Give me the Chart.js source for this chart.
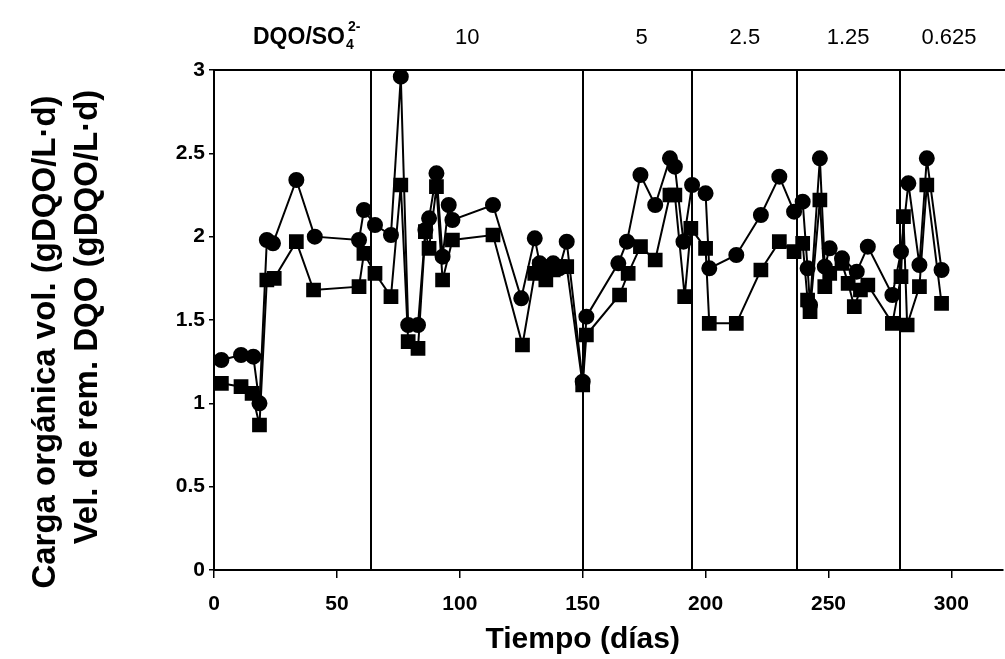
<!DOCTYPE html>
<html>
<head>
<meta charset="utf-8">
<script src="https://cdn.jsdelivr.net/npm/chart.js@4.4.0/dist/chart.umd.min.js"></script>
<style>
    html, body { margin: 0; padding: 0; background: #fff; }
    #wrap { width: 1005px; height: 659px; }
</style>
</head>
<body>
<div id="wrap"><canvas id="grafico" width="1005" height="659"></canvas></div>
<script>
// Carga orgánica volumétrica (círculos)
const cargaDias = [3, 11, 16, 18.5, 21.5, 24, 33.5, 41, 59, 61, 65.5, 72, 76, 79, 83, 86, 87.5, 90.5, 93, 95.5, 97,
    113.5, 125, 130.5, 132.5, 135, 138, 140.5, 143.5, 150, 151.5, 164.5, 168, 173.5, 179.5, 185.5, 187.5, 191, 194.5,
    200, 201.5, 212.5, 222.5, 230, 236, 239.5, 241.5, 242.5, 246.5, 248.5, 250.5, 255.5, 261.5, 266, 276, 279.5,
    282.5, 287, 290, 296];
const cargaVals = [1.26, 1.29, 1.28, 1.00, 1.98, 1.96, 2.34, 2.00, 1.98, 2.16, 2.07, 2.01, 2.96, 1.47, 1.47, 2.04, 2.11, 2.38, 1.88, 2.19, 2.10,
    2.19, 1.63, 1.99, 1.84, 1.78, 1.84, 1.81, 1.97, 1.13, 1.52, 1.84, 1.97, 2.37, 2.19, 2.47, 2.42, 1.97, 2.31,
    2.26, 1.81, 1.89, 2.13, 2.36, 2.15, 2.21, 1.81, 1.59, 2.47, 1.82, 1.93, 1.87, 1.79, 1.94, 1.65, 1.91,
    2.32, 1.83, 2.47, 1.80];

// Velocidad de remoción de DQO (cuadrados)
const velDias = [3, 11, 15.5, 18.5, 21.5, 24.5, 33.5, 40.5, 59, 61, 65.5, 72, 76, 79, 83, 86, 87.5, 90.5, 93, 97,
    113.5, 125.5, 130.5, 132.5, 135, 138, 140.5, 143.5, 150, 151.5, 165, 168.5, 173.5, 179.5, 185.5, 187.5, 191.5, 194,
    200, 201.5, 212.5, 222.5, 230, 236, 239.5, 241.5, 242.5, 246.5, 248.5, 250.5, 255.5, 258, 260.5, 263, 266, 276,
    279.5, 280.5, 282, 287, 290, 296];
const velVals = [1.12, 1.10, 1.06, 0.87, 1.74, 1.75, 1.97, 1.68, 1.70, 1.90, 1.78, 1.64, 2.31, 1.37, 1.33, 2.03, 1.93, 2.30, 1.74, 1.98,
    2.01, 1.35, 1.78, 1.82, 1.74, 1.80, 1.82, 1.82, 1.11, 1.41, 1.65, 1.78, 1.94, 1.86, 2.25, 2.25, 1.64, 2.05,
    1.93, 1.48, 1.48, 1.80, 1.97, 1.91, 1.96, 1.62, 1.55, 2.22, 1.70, 1.78, 1.84, 1.72, 1.58, 1.68, 1.71, 1.48,
    1.76, 2.12, 1.47, 1.70, 2.31, 1.60];

// Cambios de la relación DQO/SO4
const cambiosDias = [64, 150, 194.5, 237, 279];
const relacionEtiquetas = ['10', '5', '2.5', '1.25', '0.625'];
const relacionDias = [103, 174, 216, 258, 299];

const xTicks = [0, 50, 100, 150, 200, 250, 300];
const yTicks = [0, 0.5, 1, 1.5, 2, 2.5, 3];

const fuente = '"Liberation Sans", Arial, sans-serif';
Chart.defaults.font.family = fuente;
Chart.defaults.color = '#000';

function puntos(dias, vals) {
    return dias.map((d, i) => ({ x: d, y: vals[i] }));
}

const fasesPlugin = {
    id: 'fases',
    beforeDatasetsDraw(chart) {
        const { ctx, chartArea, scales: { x } } = chart;
        ctx.save();
        ctx.strokeStyle = '#000';
        ctx.lineWidth = 2;
        cambiosDias.forEach(d => {
            const px = Math.round(x.getPixelForValue(d));
            ctx.beginPath();
            ctx.moveTo(px, chartArea.top);
            ctx.lineTo(px, chartArea.bottom);
            ctx.stroke();
        });
        // linea superior del marco
        ctx.beginPath();
        ctx.moveTo(chartArea.left, chartArea.top);
        ctx.lineTo(chartArea.right + 2, chartArea.top);
        ctx.stroke();
        ctx.restore();
    },
    afterDraw(chart) {
        const { ctx, scales: { x } } = chart;
        ctx.save();
        ctx.fillStyle = '#000';
        ctx.textBaseline = 'alphabetic';

        // etiquetas de la relación
        ctx.textAlign = 'center';
        ctx.font = '22px ' + fuente;
        relacionDias.forEach((d, i) => {
            ctx.fillText(relacionEtiquetas[i], x.getPixelForValue(d), 44);
        });

        // DQO/SO4 2-
        ctx.textAlign = 'left';
        ctx.font = 'bold 23px ' + fuente;
        let lx = 253;
        ctx.fillText('DQO/SO', lx, 44);
        lx += ctx.measureText('DQO/SO').width;
        ctx.font = 'bold 14px ' + fuente;
        ctx.fillText('4', lx + 1, 49);
        ctx.fillText('2-', lx + 3, 31);

        // título eje x
        ctx.textAlign = 'center';
        ctx.font = 'bold 30px ' + fuente;
        ctx.fillText('Tiempo (días)', x.getPixelForValue(150), 648);

        // título eje y (dos líneas)
        ctx.font = 'bold 33px ' + fuente;
        ctx.textBaseline = 'middle';
        ctx.save();
        ctx.translate(46, 342);
        ctx.rotate(-Math.PI / 2);
        ctx.fillText('Carga orgánica vol. (gDQO/L·d)', 0, 0);
        ctx.restore();
        ctx.save();
        ctx.translate(88, 317);
        ctx.rotate(-Math.PI / 2);
        ctx.fillText('Vel. de rem. DQO (gDQO/L·d)', 0, 0);
        ctx.restore();
        ctx.restore();
    }
};

const ctx = document.getElementById('grafico').getContext('2d');

new Chart(ctx, {
    type: 'line',
    data: {
        datasets: [
            {
                label: 'Carga orgánica vol.',
                data: puntos(cargaDias, cargaVals),
                borderColor: '#000',
                backgroundColor: '#000',
                borderWidth: 2,
                pointStyle: 'circle',
                pointRadius: 7,
                pointBackgroundColor: '#000',
                pointBorderColor: '#000',
                tension: 0
            },
            {
                label: 'Vel. de rem. DQO',
                data: puntos(velDias, velVals),
                borderColor: '#000',
                backgroundColor: '#000',
                borderWidth: 2,
                pointStyle: 'rect',
                pointRadius: 9,
                pointBackgroundColor: '#000',
                pointBorderColor: '#000',
                tension: 0
            }
        ]
    },
    options: {
        responsive: false,
        animation: false,
        layout: { autoPadding: false, padding: { top: 70, right: 2, left: 0, bottom: 0 } },
        plugins: {
            legend: { display: false },
            tooltip: { enabled: false }
        },
        scales: {
            x: {
                type: 'linear',
                min: 0,
                max: 321,
                afterBuildTicks: s => { s.ticks = xTicks.map(v => ({ value: v })); },
                afterFit: s => { s.height = 89; },
                grid: { drawOnChartArea: false, tickLength: 8, color: '#000', lineWidth: 1.5 },
                border: { color: '#000', width: 2 },
                ticks: {
                    color: '#000',
                    maxRotation: 0,
                    padding: 14,
                    font: { size: 21, weight: 'bold' }
                },
                title: { display: false }
            },
            y: {
                type: 'linear',
                min: 0,
                max: 3,
                afterBuildTicks: s => { s.ticks = yTicks.map(v => ({ value: v })); },
                afterFit: s => { s.width = 214; },
                grid: { drawOnChartArea: false, tickLength: 5, color: '#000', lineWidth: 1.5 },
                border: { color: '#000', width: 2 },
                ticks: {
                    color: '#000',
                    padding: 4,
                    font: { size: 21, weight: 'bold' },
                    callback: v => String(v)
                },
                title: { display: false }
            }
        }
    },
    plugins: [fasesPlugin]
});
</script>
</body>
</html>
